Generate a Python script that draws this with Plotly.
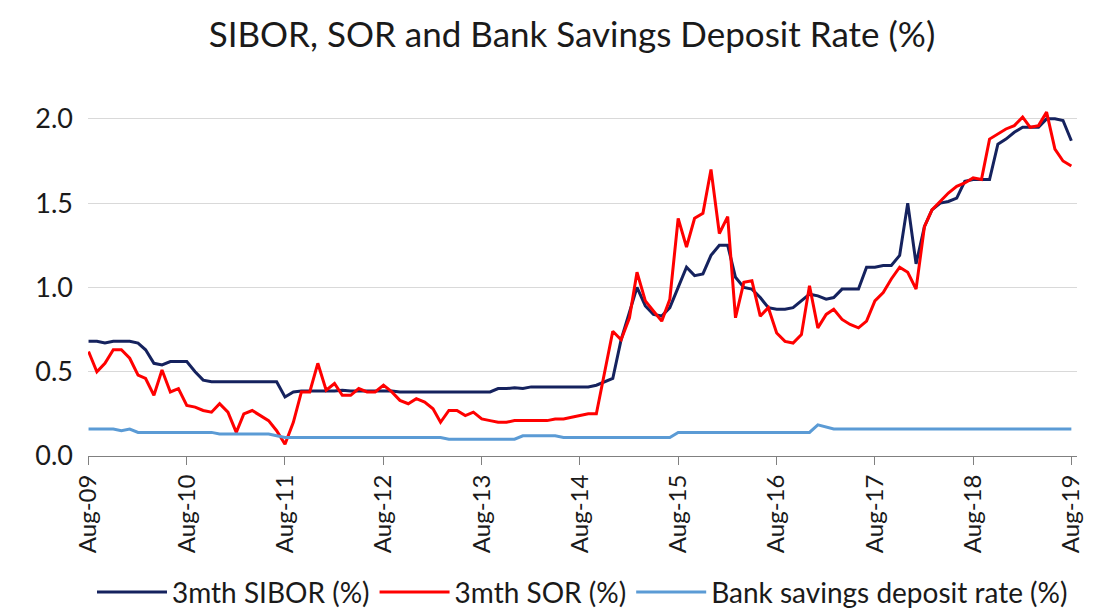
import pandas as pd
import plotly.graph_objects as go

# Monthly observations, Aug-2009 .. Aug-2019
months = pd.date_range("2009-08-01", "2019-08-01", freq="MS")

sibor_3m = [
    0.68, 0.68, 0.67, 0.68, 0.68, 0.68, 0.67, 0.63, 0.55, 0.54,   # Aug-09 ..
    0.56, 0.56, 0.56, 0.50, 0.45, 0.44, 0.44, 0.44, 0.44, 0.44,
    0.44, 0.44, 0.44, 0.44, 0.35, 0.38, 0.385, 0.385, 0.385, 0.385,
    0.385, 0.39, 0.385, 0.385, 0.385, 0.385, 0.385, 0.385, 0.38, 0.38,
    0.38, 0.38, 0.38, 0.38, 0.38, 0.38, 0.38, 0.38, 0.38, 0.38,
    0.40, 0.40, 0.405, 0.40, 0.41, 0.41, 0.41, 0.41, 0.41, 0.41,
    0.41, 0.41, 0.42, 0.44, 0.46, 0.69, 0.85, 1.00, 0.89, 0.84,   # Aug-14 ..
    0.83, 0.88, 1.00, 1.12, 1.07, 1.08, 1.19, 1.25, 1.25, 1.06,
    1.00, 0.99, 0.94, 0.88, 0.87, 0.87, 0.88, 0.92, 0.96, 0.95,
    0.93, 0.94, 0.99, 0.99, 0.99, 1.12, 1.12, 1.13, 1.13, 1.19,
    1.50, 1.14, 1.36, 1.46, 1.50, 1.51, 1.53, 1.63, 1.64, 1.64,
    1.64, 1.85, 1.88, 1.92, 1.95, 1.95, 1.95, 2.00, 2.00, 1.99,
    1.87,
]

sor_3m = [
    0.62, 0.50, 0.55, 0.63, 0.63, 0.58, 0.48, 0.46, 0.36, 0.51,   # Aug-09 ..
    0.38, 0.40, 0.30, 0.29, 0.27, 0.26, 0.31, 0.26, 0.14, 0.25,
    0.27, 0.24, 0.21, 0.15, 0.07, 0.20, 0.38, 0.38, 0.55, 0.39,
    0.43, 0.36, 0.36, 0.40, 0.38, 0.38, 0.42, 0.38, 0.33, 0.31,
    0.34, 0.32, 0.28, 0.20, 0.27, 0.27, 0.24, 0.26, 0.22, 0.21,
    0.20, 0.20, 0.21, 0.21, 0.21, 0.21, 0.21, 0.22, 0.22, 0.23,
    0.24, 0.25, 0.25, 0.49, 0.74, 0.69, 0.82, 1.09, 0.92, 0.86,   # Aug-14 ..
    0.80, 0.93, 1.41, 1.24, 1.41, 1.44, 1.70, 1.32, 1.42, 0.82,
    1.03, 1.04, 0.83, 0.88, 0.73, 0.68, 0.67, 0.72, 1.01, 0.76,
    0.84, 0.87, 0.81, 0.78, 0.76, 0.80, 0.92, 0.97, 1.05, 1.12,
    1.09, 0.99, 1.36, 1.46, 1.51, 1.56, 1.60, 1.62, 1.65, 1.64,
    1.88, 1.91, 1.94, 1.96, 2.01, 1.95, 1.96, 2.04, 1.82, 1.75,
    1.72,
]

savings_rate = [
    0.16, 0.16, 0.16, 0.16, 0.15, 0.16, 0.14, 0.14, 0.14, 0.14,   # Aug-09 ..
    0.14, 0.14, 0.14, 0.14, 0.14, 0.14, 0.13, 0.13, 0.13, 0.13,
    0.13, 0.13, 0.13, 0.12, 0.11, 0.11, 0.11, 0.11, 0.11, 0.11,
    0.11, 0.11, 0.11, 0.11, 0.11, 0.11, 0.11, 0.11, 0.11, 0.11,
    0.11, 0.11, 0.11, 0.11, 0.10, 0.10, 0.10, 0.10, 0.10, 0.10,
    0.10, 0.10, 0.10, 0.12, 0.12, 0.12, 0.12, 0.12, 0.11, 0.11,
    0.11, 0.11, 0.11, 0.11, 0.11, 0.11, 0.11, 0.11, 0.11, 0.11,   # Aug-14 ..
    0.11, 0.11, 0.14, 0.14, 0.14, 0.14, 0.14, 0.14, 0.14, 0.14,
    0.14, 0.14, 0.14, 0.14, 0.14, 0.14, 0.14, 0.14, 0.14, 0.185,
    0.17, 0.16, 0.16, 0.16, 0.16, 0.16, 0.16, 0.16, 0.16, 0.16,
    0.16, 0.16, 0.16, 0.16, 0.16, 0.16, 0.16, 0.16, 0.16, 0.16,
    0.16, 0.16, 0.16, 0.16, 0.16, 0.16, 0.16, 0.16, 0.16, 0.16,
    0.16,
]

y_ticks = [0.0, 0.5, 1.0, 1.5, 2.0]

series = [
    ("3mth SIBOR (%)", sibor_3m, "#15225e"),
    ("3mth SOR (%)", sor_3m, "#ff0000"),
    ("Bank savings deposit rate (%)", savings_rate, "#5b9bd5"),
]

FONT = "Lato, 'Open Sans', sans-serif"

fig = go.Figure()
for name, values, color in series:
    fig.add_trace(go.Scatter(
        x=months, y=values, name=name, mode="lines",
        line=dict(color=color, width=3),
    ))

fig.update_layout(
    width=1102, height=613,
    margin=dict(l=88, r=25, t=102, b=157, autoexpand=False),
    paper_bgcolor="white", plot_bgcolor="white",
    font=dict(family=FONT, size=22, color="#1a1a1a"),
    title=dict(
        text="SIBOR, SOR and Bank Savings Deposit Rate (%)",
        x=0.519, xanchor="center", y=0.943, yanchor="middle",
        font=dict(family=FONT, size=35, color="#1a1a1a"),
    ),
    showlegend=True,
    legend=dict(
        orientation="h", x=0.50, xanchor="center", y=-0.385, yanchor="middle",
        font=dict(family=FONT, size=28, color="#1a1a1a"),
        itemwidth=70, tracegroupgap=0,
    ),
)

fig.update_xaxes(
    range=["2009-07-30", "2019-08-22"],
    tick0="2009-08-01", dtick="M12", tickformat="%b-%y",
    tickangle=-90, ticks="outside", ticklen=8, tickcolor="#808080",
    showline=True, linecolor="#808080", linewidth=1,
    showgrid=False, zeroline=False, automargin=False,
    tickfont=dict(family=FONT, size=24, color="#1a1a1a"),
)
fig.update_yaxes(
    range=[0, 2.1], tickvals=y_ticks, tickformat=".1f",
    showgrid=True, gridcolor="#d9d9d9", gridwidth=1,
    zeroline=False, showline=False, ticks="", automargin=False,
    ticklabelstandoff=14,
    tickfont=dict(family=FONT, size=27, color="#1a1a1a"),
)

fig.write_html("out.html")
